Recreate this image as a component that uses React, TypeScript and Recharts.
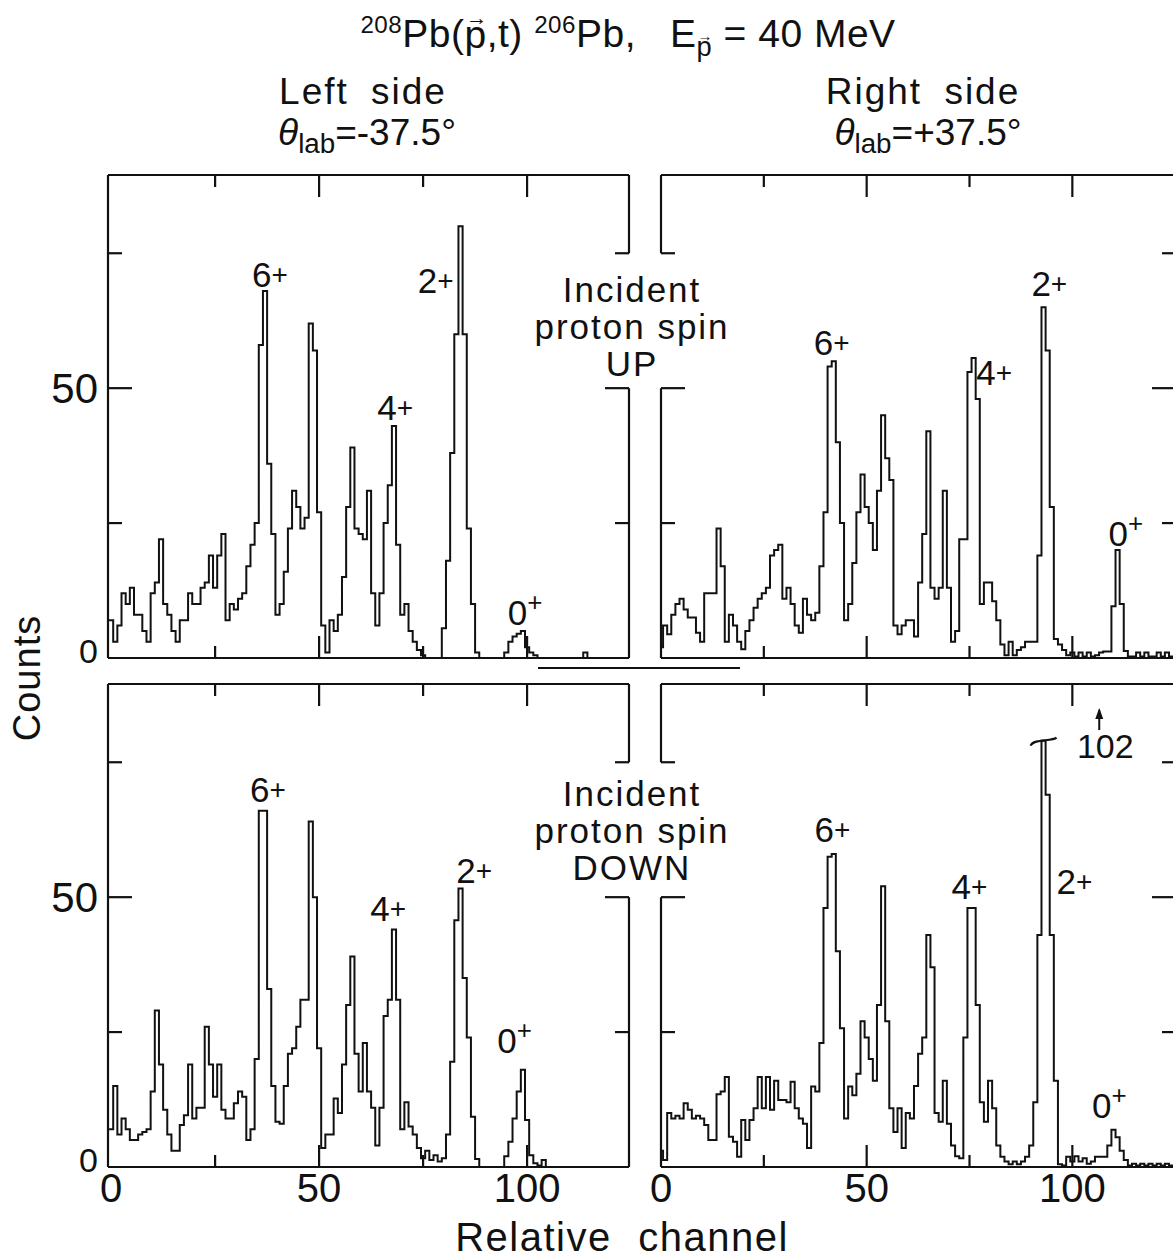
import React from 'react';
import { LineChart, Line, XAxis, YAxis, ReferenceLine, ReferenceDot } from 'recharts';

// counts per relative channel (index = channel)
const LEFT_UP = [
  7, 3, 6, 12, 10, 13, 8, 8, 5, 3,
  12, 14, 22, 10, 8, 5, 3, 7, 7, 12,
  10, 10, 13, 14, 19, 13, 19, 23, 7, 10,
  9, 11, 12, 17, 21, 25, 58, 68, 36, 23,
  8, 10, 16, 24, 31, 28, 24, 26, 62, 57,
  27, 6, 1, 7, 5, 8, 15, 28, 39, 24,
  23, 22, 31, 12, 6, 12, 25, 32, 43, 21,
  8, 10, 5, 3, 1.5, 0.5, 0, 0, 0, 0,
  5.5, 18, 38, 60, 80, 60, 24, 10, 1, 0,
  0, 0, 0, 0, 0, 1, 3, 4, 4.5, 5,
  2, 1, 0.5, 0, 0, 0, 0, 0, 0, 0,
  0, 0, 0, 0, 1, 0, 0, 0, 0, 0,
  0, 0, 0, 0,
];

const RIGHT_UP = [
  2, 6, 4.4, 8, 10, 11, 9, 7.5, 7.5, 4.7,
  3, 12, 12, 12, 24, 17, 3, 8, 6, 3,
  1.6, 5, 7, 9.3, 11, 12, 13, 19, 20, 21,
  11, 13, 10, 6, 4.7, 11, 8, 7, 8.4, 17,
  27, 54, 55, 40, 25, 7, 10, 17.6, 27, 34,
  28, 25, 20, 31, 45, 37, 33, 6, 4.4, 6,
  7, 7, 4, 14, 23, 42, 13, 11, 13, 31,
  13, 3, 5, 22, 22, 53, 55.6, 48, 10, 14,
  14, 10.5, 7, 2.5, 0.5, 3, 0.5, 1.5, 2, 3,
  3, 3, 19, 65, 57, 28, 3.5, 2.5, 1.5, 0.5,
  1, 0.3, 1, 0.3, 1, 0.3, 0.5, 1, 1.2, 1.2,
  9.6, 20, 10, 1.3, 0.3, 0.3, 1, 0.3, 1, 0.3,
  0.3, 1, 0.3, 1, 0.3,
];

const LEFT_DOWN = [
  7, 15, 6, 9, 7, 5, 5, 6, 6.5, 7,
  14, 29, 19, 10.6, 6, 3, 3, 7.8, 9.6, 19,
  9, 11, 11, 26, 19, 13, 19, 10.6, 9, 9,
  11.8, 14, 13, 5, 7, 20, 66, 66, 33, 15,
  8.4, 8, 15, 21, 22, 26, 31, 31, 64, 50,
  22, 3.5, 6, 6, 12.7, 10, 19, 30, 39, 21,
  14, 23, 14, 11, 4, 11, 28, 31, 44, 31,
  7, 12, 7.5, 6, 3.5, 1.6, 3, 1.3, 2.2, 1,
  1.6, 6, 19.5, 45.7, 51.6, 35, 24, 9.3, 1.5, 0,
  0, 0, 0, 0, 0, 2, 4.7, 9, 14, 18,
  8.7, 2.2, 0.7, 0.3, 1.3, 0, 0, 0, 0, 0,
  0, 0, 0, 0, 0, 0, 0, 0, 0, 0,
  0, 0, 0, 0,
];

const RIGHT_DOWN = [
  3, 1.3, 10, 9, 9.5, 9, 11.8, 10.6, 9, 9.5,
  9, 7.8, 5, 5, 13.5, 14, 16.7, 5.6, 4.7, 1.9,
  8.7, 5, 8.7, 10.9, 16.7, 10.9, 16.7, 10.6, 16, 12.4,
  12.4, 12, 15.8, 10.9, 9, 8, 3.5, 14.9, 14, 23,
  48, 57.5, 58, 40, 25.7, 9, 14.9, 13.3, 17.3, 27,
  24, 20, 16, 30, 52, 27, 10.9, 6.5, 10.9, 3.5,
  10, 9, 15, 21, 24, 43, 37, 10, 8.4, 16,
  8, 4, 2, 1.6, 24, 48, 48, 30, 12, 8.4,
  16, 10.9, 4, 1.9, 1, 0.5, 1, 0.5, 1, 1.9,
  4, 12, 43, 102, 69, 43, 16, 0.5, 0.3, 1.9,
  1, 2, 1, 1.6, 0.6, 1, 1.9, 1.9, 1.9, 4,
  6.9, 5.5, 3, 1.3, 0.3, 0.6, 0.3, 0.6, 0.3, 0.6,
  0.3, 0.6, 0.3, 0.6, 0.3,
];

// the 2+ peak on the right/down panel is drawn cut off, true height 102
const BREAK_AT = 79;
const TRUE_PEAK = 102;
const BREAK_CH = 93;

const X_LABELS = [0, 50, 100];
const X_MARKS = [25, 50, 75, 100];
const Y_LABELS = [0, 50];
const Y_MARKS = [25, 50, 75];
const Y_MAX = 89.5;
const LEFT_RANGE = [-0.75, 124.5];
const RIGHT_RANGE = [0, 125.2];
const FRAME_GAP = [50, 75];

// level labels: spin, channel, counts where the label sits
const LEFT_UP_PEAKS = [
  { spin: '6', ch: 38.2, at: 71 },
  { spin: '4', ch: 68.3, at: 46.5 },
  { spin: '2', ch: 78, at: 70 },
  { spin: '0', ch: 99.5, at: 8.5 },
];
const RIGHT_UP_PEAKS = [
  { spin: '6', ch: 41.5, at: 58.5 },
  { spin: '4', ch: 81, at: 53 },
  { spin: '2', ch: 94.4, at: 69.5 },
  { spin: '0', ch: 113, at: 23 },
];
const LEFT_DOWN_PEAKS = [
  { spin: '6', ch: 37.7, at: 70 },
  { spin: '4', ch: 66.6, at: 48 },
  { spin: '2', ch: 87.3, at: 55 },
  { spin: '0', ch: 97, at: 23.5 },
];
const RIGHT_DOWN_PEAKS = [
  { spin: '6', ch: 41.7, at: 62.5 },
  { spin: '4', ch: 75, at: 52 },
  { spin: '2', ch: 100.5, at: 53 },
  { spin: '0', ch: 109, at: 11.5 },
];

const FONT = '"Liberation Sans", Arial, sans-serif';
const INK = '#111';
const FRAME = { stroke: INK, strokeWidth: 2.2 };
const PLOT_H = 483;

function steps(counts: number[], cap = Infinity) {
  const rows = counts.map((n, i) => ({ ch: i - 0.5, n: Math.min(n, cap) }));
  rows.push({ ch: counts.length - 0.5, n: rows[rows.length - 1].n });
  return rows;
}

const mark = (side: string, longAt: number[], long: number, short: number) => (p: any) => {
  const len = longAt.includes(p.payload.value) ? long : short;
  const dx = side === 'left' ? len : side === 'right' ? -len : 0;
  const dy = side === 'top' ? len : side === 'bottom' ? -len : 0;
  return <line x1={p.x} y1={p.y} x2={p.x + dx} y2={p.y + dy} stroke={INK} strokeWidth={2.2} />;
};

const yLabel = (p: any) => {
  const zero = p.payload.value === 0;
  return (
    <text x={p.x} y={p.y - (zero ? 7 : 0)} dy="0.36em" textAnchor="end" fontSize={zero ? 34 : 42} fontFamily={FONT} fill={INK}>
      {p.payload.value}
    </text>
  );
};

const xLabel = (p: any) => (
  <text x={p.x} y={p.y} dy="0.72em" textAnchor="middle" fontSize={40} fontFamily={FONT} fill={INK}>
    {p.payload.value}
  </text>
);

const spinLabel = (spin: string) => (p: any) => {
  const sup = spin === '0';
  return (
    <text x={p.cx} y={p.cy} dy="0.36em" textAnchor="middle" fontSize={35} fontFamily={FONT} fill={INK}>
      {spin}
      <tspan fontSize={sup ? 26 : 28} dy={sup ? -14 : -3}>+</tspan>
    </text>
  );
};

const breakMark = (p: any) => (
  <path
    d={`M ${p.cx - 13} ${p.cy + 5} C ${p.cx - 10} ${p.cy - 2}, ${p.cx + 8} ${p.cy + 1}, ${p.cx + 13} ${p.cy - 3}`}
    fill="none"
    stroke={INK}
    strokeWidth={2.2}
  />
);

const trueHeight = (p: any) => (
  <g>
    <line x1={p.cx - 6} y1={p.cy - 36} x2={p.cx - 6} y2={p.cy - 16} stroke={INK} strokeWidth={2} />
    <path d={`M ${p.cx - 10} ${p.cy - 27} L ${p.cx - 6} ${p.cy - 38} L ${p.cx - 2} ${p.cy - 27} Z`} fill={INK} />
    <text x={p.cx} y={p.cy} dy="0.36em" textAnchor="middle" fontSize={34} fontFamily={FONT} fill={INK}>
      {TRUE_PEAK}
    </text>
  </g>
);

type Peak = { spin: string; ch: number; at: number };

function Panel({
  counts,
  col,
  row,
  peaks,
  cap,
  children,
}: {
  counts: number[];
  col: 'left' | 'right';
  row: 'top' | 'bottom';
  peaks: Peak[];
  cap?: number;
  children?: React.ReactNode;
}) {
  const isLeft = col === 'left';
  const isBottom = row === 'bottom';
  const domain = isLeft ? LEFT_RANGE : RIGHT_RANGE;
  const plotLeft = isLeft ? 108 : 661;
  const plotW = isLeft ? 521 : 515;
  const plotTop = isBottom ? 684 : 175;
  const yAxisW = isLeft ? 60 : 0;
  const xAxisH = isBottom ? 50 : 0;
  const margin = { top: 5, right: 5, bottom: 5, left: isLeft ? 10 : 25 };
  const width = margin.left + yAxisW + plotW + margin.right;
  const height = margin.top + PLOT_H + xAxisH + margin.bottom;
  const gapX = isLeft ? domain[1] : domain[0];
  const data = steps(counts, cap);

  return (
    <div style={{ position: 'absolute', left: plotLeft - yAxisW - margin.left, top: plotTop - margin.top }}>
      <LineChart width={width} height={height} data={data} margin={margin}>
        <XAxis
          xAxisId="x"
          dataKey="ch"
          type="number"
          domain={domain}
          allowDataOverflow
          hide={!isBottom}
          height={xAxisH || 30}
          ticks={X_LABELS}
          interval={0}
          tickLine={false}
          axisLine={false}
          tickMargin={0}
          tick={xLabel}
        />
        <XAxis
          xAxisId="xb"
          dataKey="ch"
          type="number"
          orientation="bottom"
          mirror
          domain={domain}
          allowDataOverflow
          height={1}
          ticks={X_MARKS}
          interval={0}
          tickLine={false}
          tickSize={0}
          tickMargin={0}
          tick={mark('bottom', [50, 100], 22, 12)}
          axisLine={FRAME}
        />
        <XAxis
          xAxisId="xt"
          dataKey="ch"
          type="number"
          orientation="top"
          mirror
          domain={domain}
          allowDataOverflow
          height={1}
          ticks={X_MARKS}
          interval={0}
          tickLine={false}
          tickSize={0}
          tickMargin={0}
          tick={mark('top', [50, 100], 22, 12)}
          axisLine={FRAME}
        />
        <YAxis
          yAxisId="y"
          type="number"
          domain={[0, Y_MAX]}
          allowDataOverflow
          hide={!isLeft}
          width={60}
          ticks={Y_LABELS}
          interval={0}
          tickLine={false}
          axisLine={false}
          tickMargin={4}
          tick={yLabel}
        />
        <YAxis
          yAxisId="yl"
          type="number"
          orientation="left"
          mirror
          domain={[0, Y_MAX]}
          allowDataOverflow
          width={1}
          ticks={Y_MARKS}
          interval={0}
          tickLine={false}
          tickSize={0}
          tickMargin={0}
          tick={mark('left', [50], 24, 14)}
          axisLine={isLeft ? FRAME : false}
        />
        <YAxis
          yAxisId="yr"
          type="number"
          orientation="right"
          mirror
          domain={[0, Y_MAX]}
          allowDataOverflow
          width={1}
          ticks={Y_MARKS}
          interval={0}
          tickLine={false}
          tickSize={0}
          tickMargin={0}
          tick={mark('right', [50], 24, 14)}
          axisLine={isLeft ? false : FRAME}
        />
        {/* frame side next to the spin caption is broken between 50 and 75 */}
        <ReferenceLine
          xAxisId="x"
          yAxisId="y"
          ifOverflow="visible"
          segment={[{ x: gapX, y: 0 }, { x: gapX, y: FRAME_GAP[0] }]}
          stroke={INK}
          strokeWidth={2.2}
        />
        <ReferenceLine
          xAxisId="x"
          yAxisId="y"
          ifOverflow="visible"
          segment={[{ x: gapX, y: FRAME_GAP[1] }, { x: gapX, y: Y_MAX }]}
          stroke={INK}
          strokeWidth={2.2}
        />
        <Line
          xAxisId="x"
          yAxisId="y"
          dataKey="n"
          type="stepAfter"
          stroke={INK}
          strokeWidth={2}
          dot={false}
          isAnimationActive={false}
        />
        {peaks.map((pk) => (
          <ReferenceDot
            key={pk.spin}
            xAxisId="x"
            yAxisId="y"
            x={pk.ch}
            y={pk.at}
            r={0}
            ifOverflow="visible"
            shape={spinLabel(pk.spin)}
          />
        ))}
        {children}
      </LineChart>
    </div>
  );
}

const Vec = ({ ch }: { ch: string }) => (
  <span style={{ position: 'relative', display: 'inline-block' }}>
    {ch}
    <span
      style={{
        position: 'absolute',
        left: '55%',
        top: '-0.3em',
        transform: 'translateX(-50%)',
        fontSize: '0.55em',
        lineHeight: 1,
      }}
    >
      →
    </span>
  </span>
);

const sup = { fontSize: '0.62em', verticalAlign: '0.6em' };

const text = (left: number, top: number, size: number, extra: React.CSSProperties = {}) =>
  ({
    position: 'absolute',
    left,
    top,
    transform: 'translate(-50%, -50%)',
    fontSize: size,
    whiteSpace: 'nowrap',
    lineHeight: 1,
    ...extra,
  }) as React.CSSProperties;

function Theta({ angle }: { angle: string }) {
  return (
    <span>
      <i style={{ fontStyle: 'italic' }}>θ</i>
      <span style={{ fontSize: '0.75em', verticalAlign: '-0.3em' }}>lab</span>={angle}°
    </span>
  );
}

function Caption({ x, y, last }: { x: number; y: number; last: string }) {
  return (
    <div style={{ ...text(x, y, 35, { letterSpacing: 2 }), textAlign: 'center', lineHeight: '37px' }}>
      Incident
      <br />
      proton spin
      <br />
      {last}
    </div>
  );
}

export default function App() {
  return (
    <div
      style={{
        position: 'relative',
        width: 1173,
        height: 1259,
        overflow: 'hidden',
        background: '#fff',
        fontFamily: FONT,
        color: INK,
      }}
    >
      <style>{'body{margin:0}'}</style>

      <div style={text(628, 36, 39, { letterSpacing: 0.5 })}>
        <span style={sup}>208</span>Pb(<Vec ch="p" />,t) <span style={sup}>206</span>Pb,&nbsp;&nbsp;&nbsp;E
        <span style={{ fontSize: '0.7em', verticalAlign: '-0.3em' }}>
          <Vec ch="p" />
        </span>
        {' '}= 40 MeV
      </div>

      <div style={text(363, 91, 37, { letterSpacing: 2, wordSpacing: 10 })}>Left side</div>
      <div style={text(367, 136, 37)}>
        <Theta angle="-37.5" />
      </div>
      <div style={text(923, 91, 37, { letterSpacing: 2, wordSpacing: 10 })}>Right side</div>
      <div style={text(928, 136, 37)}>
        <Theta angle="+37.5" />
      </div>

      <Panel counts={LEFT_UP} col="left" row="top" peaks={LEFT_UP_PEAKS} />
      <Panel counts={RIGHT_UP} col="right" row="top" peaks={RIGHT_UP_PEAKS} />
      <Panel counts={LEFT_DOWN} col="left" row="bottom" peaks={LEFT_DOWN_PEAKS} />
      <Panel counts={RIGHT_DOWN} col="right" row="bottom" peaks={RIGHT_DOWN_PEAKS} cap={BREAK_AT}>
        <ReferenceDot xAxisId="x" yAxisId="y" x={BREAK_CH} y={BREAK_AT} r={0} ifOverflow="visible" shape={breakMark} />
        <ReferenceDot xAxisId="x" yAxisId="y" x={108} y={78} r={0} ifOverflow="visible" shape={trueHeight} />
      </Panel>

      <Caption x={632} y={326} last="UP" />
      <Caption x={632} y={830} last="DOWN" />

      <div style={{ position: 'absolute', left: 538, top: 667, width: 202, height: 2, background: INK }} />

      <div style={text(27, 678, 38, { transform: 'translate(-50%, -50%) rotate(-90deg)', letterSpacing: 1 })}>
        Counts
      </div>
      <div style={text(622, 1237, 40, { letterSpacing: 1.5, wordSpacing: 14 })}>Relative channel</div>
    </div>
  );
}
